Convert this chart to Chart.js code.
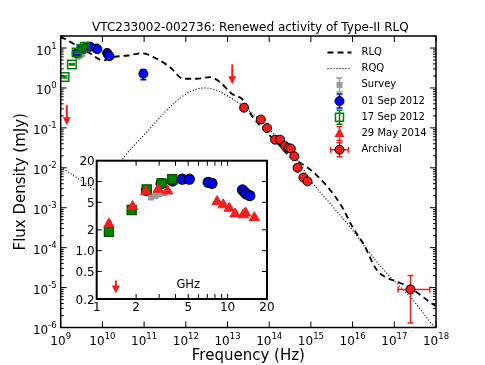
<!DOCTYPE html>
<html>
<head>
<meta charset="utf-8">
<title>VTC233002-002736 SED</title>
<script src="https://cdn.jsdelivr.net/npm/chart.js@4.4.1/dist/chart.umd.min.js"></script>
<style>
  body { margin: 0; background: #fff; }
  #wrap { position: relative; width: 485px; height: 365px; }
  canvas { position: absolute; }
</style>
</head>
<body>
<div id="wrap">
  <canvas id="sed" width="485" height="365" style="left:0;top:0"></canvas>
  <canvas id="zoom" width="215" height="165" style="left:60px;top:150px"></canvas>
</div>
<script>
// --- observed radio points, frequency in GHz, flux in mJy ---
var sep01Freq = [2.4, 3.1, 3.8, 4.5, 5.1, 7.1, 7.6, 13.0, 13.5, 13.9, 14.8, 96];
var sep01Flux = [7.4, 9.3, 10.2, 10.8, 10.8, 9.75, 9.4, 7.55, 7.0, 6.6, 6.25, 2.26];
var sep01Err = [0.3, 0.3, 0.3, 0.3, 0.3, 0.3, 0.3, 0.3, 0.3, 0.3, 0.3, 0.65];

var sep17Freq = [1.24, 1.85, 2.41, 3.13, 3.78];
var sep17Flux = [1.88, 3.88, 7.7, 9.4, 10.8];
var sep17Err = [0.1, 0.15, 0.3, 0.3, 0.3];

var may14Freq = [1.24, 1.88, 2.37, 2.95, 3.48, 8.3, 9.25, 10.3, 11.4, 13.2, 13.7, 16.0];
var may14Flux = [2.43, 4.33, 7.1, 7.7, 7.3, 5.1, 4.6, 4.1, 3.4, 3.3, 3.5, 3.0];
var may14Err = [0.15, 0.2, 0.3, 0.3, 0.3, 0.2, 0.2, 0.2, 0.15, 0.15, 0.15, 0.15];

var surveyFreq = [2.6, 2.8, 3.0, 3.3];
var surveyFlux = [5.9, 6.2, 6.5, 6.8];
var surveyErr = [0.4, 0.4, 0.4, 0.4];

// upper limits (GHz, mJy)
var limitFreq = [1.4, 13000];
var limitFlux = [0.37, 3.9];

// --- archival points, Hz and mJy ---
var archFreq = [2.5e13, 6.3e13, 8.9e13, 1.38e14, 1.82e14, 2.4e14, 2.9e14, 3.3e14, 4.0e14, 4.8e14, 6.6e14, 8.3e14, 2.45e17];
var archFlux = [0.32, 0.162, 0.099, 0.0507, 0.0507, 0.035, 0.0313, 0.0302, 0.0195, 0.010, 0.0057, 0.00457, 9.0e-6];
var archFluxLo = [0, 0, 0, 0, 0, 0, 0, 0, 0, 0, 0, 0, 1.3e-6];
var archFluxHi = [0, 0, 0, 0, 0, 0, 0, 0, 0, 0, 0, 0, 2.0e-5];
var archFreqLo = [0, 0, 0, 0, 0, 0, 0, 0, 0, 0, 0, 0, 1.23e17];
var archFreqHi = [0, 0, 0, 0, 0, 0, 0, 0, 0, 0, 0, 0, 7.1e17];

// --- template SEDs (Hz, mJy) ---
var rlqFreq = [1.0e9, 1.07e9, 1.26e9, 2.4e9, 4.6e9, 1.05e10, 1.8e10, 4.2e10, 8.7e10, 2.0e11, 4.2e11, 8.7e11, 1.8e12, 3.8e12, 6.6e12, 1.26e13, 2.4e13, 3.8e13, 7.2e13, 1.5e14, 3.2e14, 6.0e14, 1.38e15, 5.0e15, 1.05e16, 1.8e16, 3.8e16, 6.0e16, 1.15e17, 2.2e17, 7.9e17, 1.0e18];
var rlqFlux = [19.5, 18.2, 17.0, 11.5, 7.85, 4.9, 5.9, 6.5, 7.4, 5.4, 3.3, 1.7, 1.7, 1.86, 1.4, 0.72, 0.49, 0.204, 0.095, 0.044, 0.0186, 0.0127, 0.0065, 1.27e-3, 3.0e-4, 1.27e-4, 2.75e-5, 1.86e-5, 1.4e-5, 1.05e-5, 4.0e-6, 3.4e-6];

var rqqFreq = [1.0e9, 3.5e9, 7.1e9, 1.4e10, 2.8e10, 3.2e10, 1.38e11, 2.9e11, 5.6e11, 1.0e12, 1.8e12, 2.9e12, 5.5e12, 9.5e12, 2.0e13, 5.0e13, 1.26e14, 3.8e14, 1.05e15, 2.9e15, 8.7e15, 2.6e16, 7.9e16, 2.4e17, 5.0e17, 8.9e17, 1.0e18];
var rqqFlux = [0.0105, 4.4e-3, 2.8e-3, 4.5e-3, 0.0141, 0.0176, 0.0955, 0.226, 0.44, 0.70, 0.93, 1.0, 0.87, 0.65, 0.40, 0.186, 0.0716, 0.0226, 4.4e-3, 1.27e-3, 3.3e-4, 7.2e-5, 1.86e-5, 5.9e-6, 2.26e-6, 1.05e-6, 9.0e-7];

// --- axis ticks and texts ---
var xPowers = [9, 10, 11, 12, 13, 14, 15, 16, 17, 18];
var yPowers = [-6, -5, -4, -3, -2, -1, 0, 1];
var insetXTicks = [2, 3, 4, 5, 6, 7, 8, 9, 10];
var insetXLabels = [1, 2, 5, 10, 20];
var insetYTicks = [0.5, 1, 2, 5, 10];
var insetYLabels = ['0.2', '0.5', '1.0', '2', '5', '10', '20'];

var chartTitle = 'VTC233002-002736: Renewed activity of Type-II RLQ';
var xTitle = 'Frequency (Hz)';
var yTitle = 'Flux Density (mJy)';

var FONT = '"DejaVu Sans", Verdana, sans-serif';
var RED = 'rgb(240,30,30)';
var BLUE = '#0000ff';
var GREEN = '#008000';
var GREY = '#999999';

function toPoints(freq, flux, mult) {
  return freq.map(function (f, i) {
    return { x: f * mult, y: flux[i] };
  });
}

function line(ctx, x1, y1, x2, y2) {
  ctx.moveTo(x1, y1);
  ctx.lineTo(x2, y2);
}

function drawArrow(ctx, x, y, len, color) {
  ctx.save();
  ctx.strokeStyle = color;
  ctx.fillStyle = color;
  ctx.lineWidth = 2;
  ctx.beginPath();
  line(ctx, x, y, x, y + len - 7);
  ctx.stroke();
  ctx.beginPath();
  ctx.moveTo(x - 4, y + len - 8);
  ctx.lineTo(x + 4, y + len - 8);
  ctx.lineTo(x, y + len);
  ctx.closePath();
  ctx.fill();
  ctx.restore();
}

// 10^n with a raised exponent
function powerLabel(ctx, x, y, power, align) {
  var base = '10', exp = String(power);
  ctx.font = '12px ' + FONT;
  var w1 = ctx.measureText(base).width;
  ctx.font = '8.5px ' + FONT;
  var w2 = ctx.measureText(exp).width;
  var x0 = align === 'right' ? x - w1 - w2 : x - (w1 + w2) / 2;
  ctx.textAlign = 'left';
  ctx.textBaseline = 'alphabetic';
  ctx.font = '12px ' + FONT;
  ctx.fillText(base, x0, y);
  ctx.font = '8.5px ' + FONT;
  ctx.fillText(exp, x0 + w1, y - 6);
}

// error bars drawn just before each dataset's markers
var errorBars = {
  id: 'errorBars',
  beforeDatasetDraw: function (chart, args) {
    var ds = chart.data.datasets[args.index];
    if (!ds.errY && !ds.errYLo && !ds.errXLo) return;
    var ctx = chart.ctx, xs = chart.scales.x, ys = chart.scales.y, a = chart.chartArea;
    ctx.save();
    ctx.beginPath();
    ctx.rect(a.left, a.top, a.width, a.height);
    ctx.clip();
    ctx.strokeStyle = ds.errColor;
    ctx.lineWidth = 1.5;
    ctx.beginPath();
    ds.data.forEach(function (p, i) {
      var px = xs.getPixelForValue(p.x), py = ys.getPixelForValue(p.y);
      var lo = null, hi = null;
      if (ds.errY) { lo = p.y - ds.errY[i]; hi = p.y + ds.errY[i]; }
      if (ds.errYLo && ds.errYLo[i]) { lo = ds.errYLo[i]; hi = ds.errYHi[i]; }
      if (lo !== null && lo > 0) {
        var y1 = ys.getPixelForValue(lo), y2 = ys.getPixelForValue(hi);
        line(ctx, px, y1, px, y2);
        line(ctx, px - 3, y1, px + 3, y1);
        line(ctx, px - 3, y2, px + 3, y2);
      }
      if (ds.errXLo && ds.errXLo[i]) {
        var x1 = xs.getPixelForValue(ds.errXLo[i]), x2 = xs.getPixelForValue(ds.errXHi[i]);
        line(ctx, x1, py, x2, py);
        line(ctx, x1, py - 3, x1, py + 3);
        line(ctx, x2, py - 3, x2, py + 3);
      }
    });
    ctx.stroke();
    ctx.restore();
  }
};

var limitArrows = {
  id: 'limitArrows',
  afterDatasetsDraw: function (chart, args, opts) {
    var xs = chart.scales.x, ys = chart.scales.y;
    opts.freq.forEach(function (f, i) {
      var v = f * opts.mult;
      if (v < xs.min || v > xs.max) return;
      drawArrow(chart.ctx, xs.getPixelForValue(v), ys.getPixelForValue(opts.flux[i]), opts.len, RED);
    });
  }
};

function legendMarker(ctx, x, y, kind) {
  ctx.save();
  ctx.lineWidth = 1.5;
  if (kind === 'rlq' || kind === 'rqq') {
    ctx.strokeStyle = '#000';
    ctx.setLineDash(kind === 'rlq' ? [6, 4] : [1, 2]);
    ctx.lineWidth = kind === 'rlq' ? 1.8 : 1.2;
    ctx.beginPath();
    line(ctx, x - 12, y, x + 12, y);
    ctx.stroke();
    ctx.restore();
    return;
  }
  var col = { survey: GREY, sep01: BLUE, sep17: GREEN, may14: RED, arch: RED }[kind];
  ctx.strokeStyle = col;
  ctx.beginPath();
  line(ctx, x, y - 7, x, y + 7);
  line(ctx, x - 3, y - 7, x + 3, y - 7);
  line(ctx, x - 3, y + 7, x + 3, y + 7);
  if (kind === 'arch') {
    line(ctx, x - 9, y, x + 9, y);
    line(ctx, x - 9, y - 3, x - 9, y + 3);
    line(ctx, x + 9, y - 3, x + 9, y + 3);
  }
  ctx.stroke();
  ctx.lineWidth = 1;
  ctx.beginPath();
  if (kind === 'sep01' || kind === 'arch') {
    ctx.arc(x, y, 4.5, 0, Math.PI * 2);
    ctx.fillStyle = kind === 'sep01' ? BLUE : RED;
    ctx.fill();
    ctx.strokeStyle = '#000';
    ctx.stroke();
  } else if (kind === 'sep17') {
    ctx.lineWidth = 1.5;
    ctx.strokeStyle = GREEN;
    ctx.strokeRect(x - 4, y - 4, 8, 8);
  } else if (kind === 'may14') {
    ctx.moveTo(x, y - 5.5);
    ctx.lineTo(x + 5, y + 3.5);
    ctx.lineTo(x - 5, y + 3.5);
    ctx.closePath();
    ctx.fillStyle = RED;
    ctx.fill();
  } else {
    ctx.fillStyle = GREY;
    ctx.fillRect(x - 3, y - 3, 6, 6);
  }
  ctx.restore();
}

// frame, inward ticks, tick labels, titles and legend of the big panel
var sedFrame = {
  id: 'sedFrame',
  afterDraw: function (chart) {
    var ctx = chart.ctx, a = chart.chartArea, xs = chart.scales.x, ys = chart.scales.y;
    ctx.save();
    ctx.strokeStyle = '#000';
    ctx.fillStyle = '#000';
    ctx.lineWidth = 1;
    ctx.beginPath();
    xPowers.forEach(function (e) {
      var px = xs.getPixelForValue(Math.pow(10, e));
      line(ctx, px, a.bottom, px, a.bottom - 6);
      line(ctx, px, a.top, px, a.top + 6);
    });
    yPowers.forEach(function (e) {
      for (var m = 1; m < 10; m++) {
        var v = m * Math.pow(10, e);
        if (v > ys.max) break;
        var py = ys.getPixelForValue(v), len = m === 1 ? 6 : 3;
        line(ctx, a.left, py, a.left + len, py);
        line(ctx, a.right, py, a.right - len, py);
      }
    });
    ctx.stroke();
    ctx.lineWidth = 1.5;
    ctx.strokeRect(a.left, a.top, a.width, a.height);

    xPowers.forEach(function (e) {
      powerLabel(ctx, xs.getPixelForValue(Math.pow(10, e)), a.bottom + 17.5, e, 'center');
    });
    yPowers.forEach(function (e) {
      powerLabel(ctx, a.left - 4, ys.getPixelForValue(Math.pow(10, e)) + 6.5, e, 'right');
    });

    var cx = (a.left + a.right) / 2;
    ctx.textAlign = 'center';
    ctx.font = '12px ' + FONT;
    ctx.fillText(chartTitle, cx + 2, 31);
    ctx.font = '15px ' + FONT;
    ctx.fillText(xTitle, cx, 360);
    ctx.save();
    ctx.translate(25, (a.top + a.bottom) / 2);
    ctx.rotate(-Math.PI / 2);
    ctx.fillText(yTitle, 0, 0);
    ctx.restore();

    // legend
    var items = [
      ['rlq', 'RLQ'], ['rqq', 'RQQ'], ['survey', 'Survey'], ['sep01', '01 Sep 2012'],
      ['sep17', '17 Sep 2012'], ['may14', '29 May 2014'], ['arch', 'Archival']
    ];
    ctx.font = '10px ' + FONT;
    ctx.textAlign = 'left';
    ctx.textBaseline = 'middle';
    items.forEach(function (it, i) {
      var y = 52.5 + i * 16.2;
      legendMarker(ctx, 339.5, y, it[0]);
      ctx.fillStyle = '#000';
      ctx.fillText(it[1], 361.5, y);
    });
    ctx.restore();
  }
};

// frame, ticks and labels of the inset
var insetFrame = {
  id: 'insetFrame',
  beforeDraw: function (chart) {
    var a = chart.chartArea;
    chart.ctx.save();
    chart.ctx.fillStyle = '#fff';
    chart.ctx.fillRect(a.left, a.top, a.width, a.height);
    chart.ctx.restore();
  },
  afterDraw: function (chart) {
    var ctx = chart.ctx, a = chart.chartArea, xs = chart.scales.x, ys = chart.scales.y;
    ctx.save();
    ctx.strokeStyle = '#000';
    ctx.fillStyle = '#000';
    ctx.lineWidth = 1;
    ctx.beginPath();
    insetXTicks.forEach(function (v) {
      var px = xs.getPixelForValue(v);
      line(ctx, px, a.bottom, px, a.bottom - 5);
      line(ctx, px, a.top, px, a.top + 5);
    });
    insetYTicks.forEach(function (v) {
      var py = ys.getPixelForValue(v);
      line(ctx, a.left, py, a.left + 5, py);
      line(ctx, a.right, py, a.right - 5, py);
    });
    ctx.stroke();
    ctx.lineWidth = 2;
    ctx.strokeRect(a.left, a.top, a.width, a.height);

    ctx.font = '12px ' + FONT;
    ctx.textAlign = 'center';
    ctx.textBaseline = 'alphabetic';
    insetXLabels.forEach(function (v) {
      ctx.fillText(String(v), xs.getPixelForValue(v), a.bottom + 12);
    });
    ctx.textAlign = 'right';
    insetYLabels.forEach(function (t) {
      ctx.fillText(t, a.left - 2, ys.getPixelForValue(parseFloat(t)) + 4.5);
    });
    ctx.textAlign = 'center';
    ctx.font = '11.5px ' + FONT;
    ctx.fillText('GHz', xs.getPixelForValue(5), a.bottom - 11);
    ctx.restore();
  }
};

var noLegend = { legend: { display: false }, tooltip: { enabled: false } };

// big SED panel
var sedChart = new Chart(document.getElementById('sed'), {
  type: 'scatter',
  data: {
    datasets: [
      {
        label: 'Archival', data: toPoints(archFreq, archFlux, 1),
        errYLo: archFluxLo, errYHi: archFluxHi, errXLo: archFreqLo, errXHi: archFreqHi, errColor: RED,
        pointRadius: 4.5, backgroundColor: RED, borderColor: '#000', borderWidth: 1
      },
      {
        label: '17 Sep 2012', data: toPoints(sep17Freq, sep17Flux, 1e9), errY: sep17Err, errColor: GREEN,
        pointStyle: 'rect', pointRadius: 6, backgroundColor: 'rgba(255,255,255,0)', borderColor: GREEN, borderWidth: 1.5
      },
      {
        label: '01 Sep 2012', data: toPoints(sep01Freq, sep01Flux, 1e9), errY: sep01Err, errColor: BLUE,
        pointRadius: 4.5, backgroundColor: BLUE, borderColor: '#000', borderWidth: 1
      },
      {
        label: 'Survey', data: toPoints(surveyFreq, surveyFlux, 1e9), errY: surveyErr, errColor: GREY,
        pointStyle: 'rect', pointRadius: 3, backgroundColor: GREY, borderColor: GREY, borderWidth: 1
      },
      {
        label: 'RLQ', data: toPoints(rlqFreq, rlqFlux, 1), showLine: true, pointRadius: 0,
        borderColor: '#000', borderWidth: 1.8, borderDash: [6, 4], cubicInterpolationMode: 'monotone'
      },
      {
        label: 'RQQ', data: toPoints(rqqFreq, rqqFlux, 1), showLine: true, pointRadius: 0,
        borderColor: '#000', borderWidth: 1.2, borderDash: [1, 2], cubicInterpolationMode: 'monotone'
      }
    ]
  },
  options: {
    responsive: false,
    animation: false,
    layout: { padding: { left: 60.7, right: 49, top: 36, bottom: 37.5 } },
    scales: {
      x: { type: 'logarithmic', min: 1e9, max: 1e18, display: false },
      y: { type: 'logarithmic', min: 1e-6, max: 20, display: false }
    },
    plugins: Object.assign({
      limitArrows: { freq: limitFreq, flux: limitFlux, mult: 1e9, len: 20 }
    }, noLegend)
  },
  plugins: [errorBars, limitArrows, sedFrame]
});

// inset, 1-20 GHz
var zoomChart = new Chart(document.getElementById('zoom'), {
  type: 'scatter',
  data: {
    datasets: [
      {
        label: '29 May 2014', data: toPoints(may14Freq, may14Flux, 1), errY: may14Err, errColor: RED,
        pointStyle: 'triangle', pointRadius: 6, backgroundColor: RED, borderColor: RED, borderWidth: 1
      },
      {
        label: '17 Sep 2012', data: toPoints(sep17Freq, sep17Flux, 1), errY: sep17Err, errColor: BLUE,
        pointStyle: 'rect', pointRadius: 6.5, backgroundColor: GREEN, borderColor: '#004d00', borderWidth: 1.2
      },
      {
        label: 'Survey', data: toPoints(surveyFreq, surveyFlux, 1), errY: surveyErr, errColor: GREY,
        pointStyle: 'rect', pointRadius: 3.5, backgroundColor: GREY, borderColor: GREY, borderWidth: 1
      },
      {
        label: '01 Sep 2012', data: toPoints(sep01Freq, sep01Flux, 1), errY: sep01Err, errColor: BLUE,
        pointRadius: 5, backgroundColor: BLUE, borderColor: '#000', borderWidth: 1.2
      }
    ]
  },
  options: {
    responsive: false,
    animation: false,
    layout: { padding: { left: 36.7, right: 8, top: 10.7, bottom: 16 } },
    scales: {
      x: { type: 'logarithmic', min: 1, max: 20, display: false },
      y: { type: 'logarithmic', min: 0.2, max: 20, display: false }
    },
    plugins: Object.assign({
      limitArrows: { freq: limitFreq, flux: limitFlux, mult: 1, len: 13 }
    }, noLegend)
  },
  plugins: [insetFrame, errorBars, limitArrows]
});
</script>
</body>
</html>
